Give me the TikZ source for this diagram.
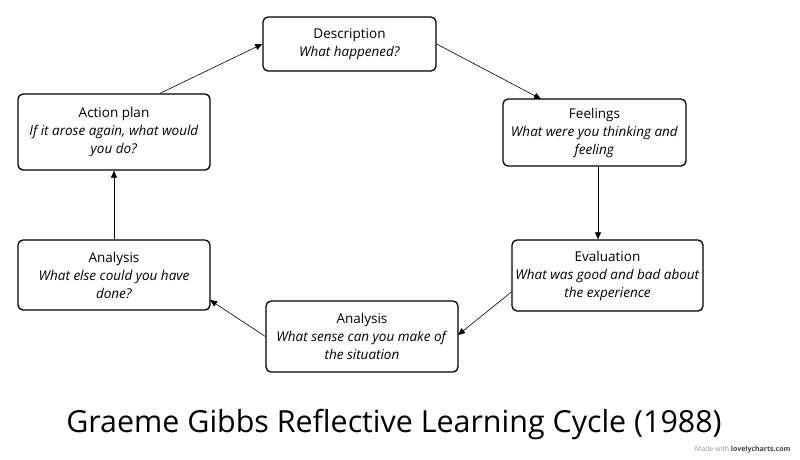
\documentclass[tikz,border=0pt]{standalone}
\usepackage{fontspec}
\setmainfont{Open Sans}
\usetikzlibrary{arrows.meta}
\begin{document}
\begin{tikzpicture}[x=1pt,y=-1pt,
  box/.style={draw=black,line width=1.3pt,rounded corners=5pt,fill=white,inner sep=0pt,align=center,font=\fontsize{13.5}{18}\selectfont},
  conn/.style={line width=0.6pt,-{Triangle[length=7pt,width=6pt]}}]
\useasboundingbox[fill=white] (0,0) rectangle (800,459);
\node[box,minimum width=173pt,minimum height=54pt] (desc) at (349.5,44) {Description\\\textit{What happened?}};
\node[box,minimum width=183pt,minimum height=67pt] (feel) at (594.5,132.5) {Feelings\\\textit{What were you thinking and}\\\textit{feeling}};
\node[box,minimum width=192pt,minimum height=76pt] (act) at (114,132) {Action plan\\\textit{If it arose again, what would}\\\textit{you do?}};
\node[box,minimum width=191pt,minimum height=71pt] (eval) at (607.5,275.5) {Evaluation\\\textit{What was good and bad about}\\\textit{the experience}};
\node[box,minimum width=192pt,minimum height=70pt] (anl) at (114,275) {Analysis\\\textit{What else could you have}\\\textit{done?}};
\node[box,minimum width=192pt,minimum height=71pt] (anb) at (362,336.5) {Analysis\\\textit{What sense can you make of}\\\textit{the situation}};
\coordinate (a1) at (160,94);
\coordinate (a2) at (541,99);
\coordinate (a3) at (458,335);
\coordinate (a4) at (210,300);
\draw[conn] (act.north -| a1) -- (desc.west);
\draw[conn] (desc.east) -- (a2);
\draw[conn] (feel.south -| 598,0) -- (eval.north -| 598,0);
\draw[conn] (eval.west |- 0,292) -- (a3);
\draw[conn] (anb.west) -- (a4);
\draw[conn] (anl.north) -- (act.south);
\node[font=\fontsize{30.4}{34}\selectfont] (title) at (394,425) {Graeme Gibbs Reflective Learning Cycle (1988)};
\node[font=\fontsize{7}{8}\selectfont,text=gray!80,anchor=east] (wm) at (794,450) {Made with \textbf{\color{black!75}lovelycharts.com}};
\end{tikzpicture}
\end{document}
